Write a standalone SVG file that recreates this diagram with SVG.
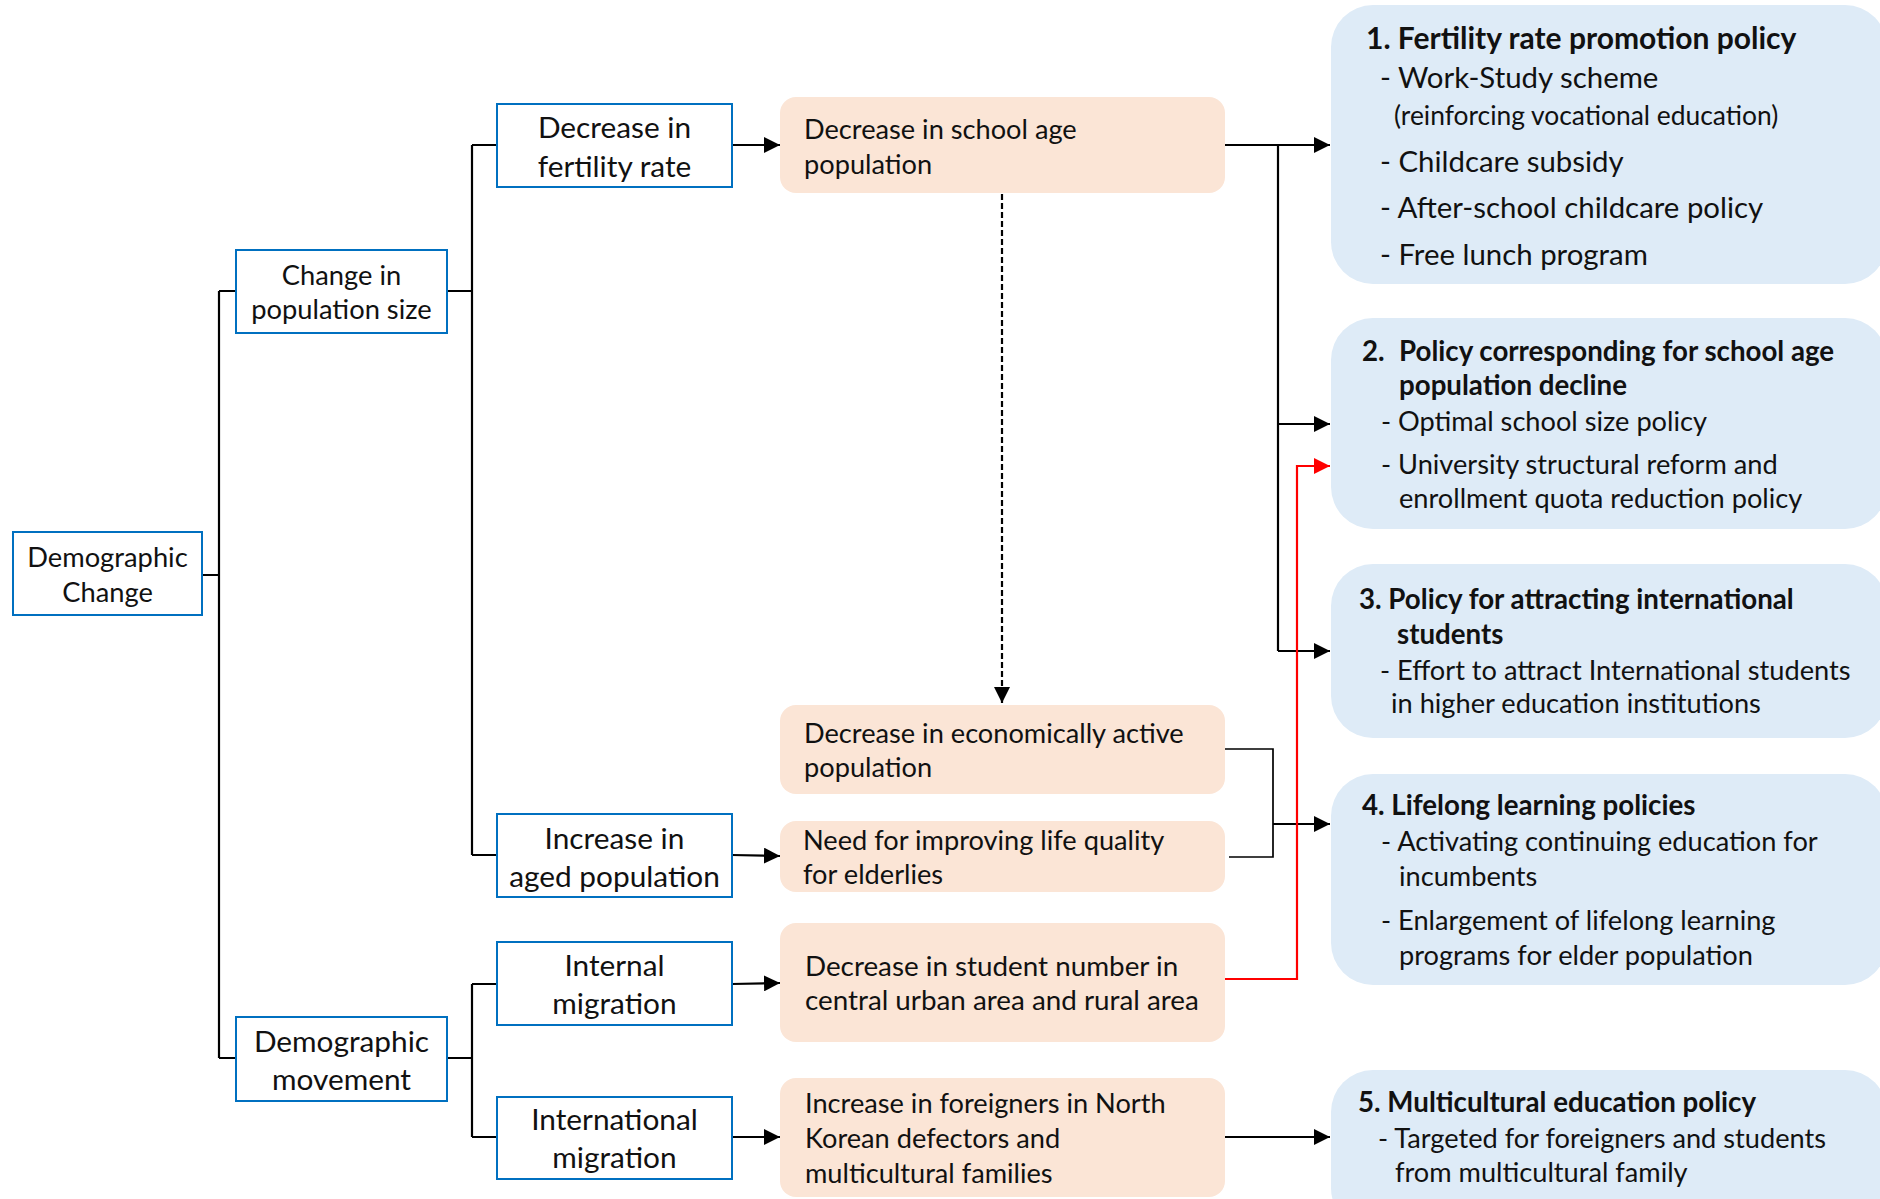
<svg xmlns="http://www.w3.org/2000/svg" width="1880" height="1199" viewBox="0 0 1880 1199">
<style>
text{font-family:Lato,"Liberation Sans",sans-serif;fill:#111}
.bx{fill:#fff;stroke:#0070C0;stroke-width:2}
.or{fill:#FBE5D6}
.pb{fill:#DEEBF7}
.c{text-anchor:middle}
.s1{font-size:27.3px}
.s2{font-size:29.8px}
.so{font-size:27.2px}
.so2{font-size:27.8px}
.p1{font-size:29.4px}
.p1t{font-size:30px;font-weight:bold}
.r{font-size:26.4px}
.pn{font-size:27.2px}
.pt{font-size:27.7px;font-weight:bold}
.ln{fill:none;stroke:#000;stroke-width:2.2}
.thin{fill:none;stroke:#000;stroke-width:1.7}
.red{fill:none;stroke:#FF0000;stroke-width:2.2}
.dash{fill:none;stroke:#000;stroke-width:2.2;stroke-dasharray:6 3}
</style>
<defs>
<marker id="ah" markerUnits="userSpaceOnUse" markerWidth="16" markerHeight="16" refX="16" refY="8" orient="auto"><path d="M0,0 L16,8 L0,16 Z" fill="#000"/></marker>
<marker id="ahr" markerUnits="userSpaceOnUse" markerWidth="16" markerHeight="16" refX="16" refY="8" orient="auto"><path d="M0,0 L16,8 L0,16 Z" fill="#FF0000"/></marker>
</defs>
<rect width="1880" height="1199" fill="#fff"/>

<g id="connectors">
<path class="ln" d="M202,575 H219 M219,291 V1058 M219,291 H236 M219,1058 H236"/>
<path class="ln" d="M447,291 H472 M472,145 V855 M472,145 H497 M472,855 H497"/>
<path class="ln" d="M447,1058 H472 M472,984 V1137 M472,984 H497 M472,1137 H497"/>
<path class="ln" d="M732,145 H780" marker-end="url(#ah)"/>
<path class="ln" d="M732,855 L780,856" marker-end="url(#ah)"/>
<path class="ln" d="M732,984 L780,983" marker-end="url(#ah)"/>
<path class="ln" d="M732,1137 H780" marker-end="url(#ah)"/>
<path class="ln" d="M1225,145 H1330" marker-end="url(#ah)"/>
<path class="ln" d="M1278,145 V651"/>
<path class="ln" d="M1278,424 H1330" marker-end="url(#ah)"/>
<path class="ln" d="M1278,651 H1330" marker-end="url(#ah)"/>
<path class="dash" d="M1002,194 V703" marker-end="url(#ah)"/>
<path class="thin" d="M1225,749 H1273 V857 H1229"/>
<path class="ln" d="M1273,824 H1330" marker-end="url(#ah)"/>
<path class="red" d="M1225,979 H1297 V466 H1330" marker-end="url(#ahr)"/>
<path class="ln" d="M1225,1137 H1330" marker-end="url(#ah)"/>
</g>

<g id="demographic-change">
<rect class="bx" x="13" y="532" width="189" height="83"/>
<text class="c s1" x="107.5" y="567">Demographic</text>
<text class="c s1" x="107.5" y="602">Change</text>
</g>
<g id="change-population-size">
<rect class="bx" x="236" y="250" width="211" height="83"/>
<text class="c s1" x="341.5" y="285">Change in</text>
<text class="c s1" x="341.5" y="319">population size</text>
</g>
<g id="demographic-movement">
<rect class="bx" x="236" y="1017" width="211" height="84"/>
<text class="c s2" x="341.5" y="1052">Demographic</text>
<text class="c s2" x="341.5" y="1090">movement</text>
</g>
<g id="decrease-fertility">
<rect class="bx" x="497" y="104" width="235" height="83"/>
<text class="c s2" x="614.5" y="138">Decrease in</text>
<text class="c s2" x="614.5" y="177">fertility rate</text>
</g>
<g id="increase-aged">
<rect class="bx" x="497" y="814" width="235" height="83"/>
<text class="c s2" x="614.5" y="849">Increase in</text>
<text class="c s2" x="614.5" y="887">aged population</text>
</g>
<g id="internal-migration">
<rect class="bx" x="497" y="942" width="235" height="83"/>
<text class="c s2" x="614.5" y="976">Internal</text>
<text class="c s2" x="614.5" y="1014">migration</text>
</g>
<g id="international-migration">
<rect class="bx" x="497" y="1097" width="235" height="82"/>
<text class="c s2" x="614.5" y="1130">International</text>
<text class="c s2" x="614.5" y="1168">migration</text>
</g>

<g id="school-age">
<rect class="or" x="780" y="97" width="445" height="96" rx="16"/>
<text class="so" x="804" y="139">Decrease in school age</text>
<text class="so" x="804" y="174">population</text>
</g>
<g id="econ-active">
<rect class="or" x="780" y="705" width="445" height="89" rx="16"/>
<text class="so" x="804" y="743">Decrease in economically active</text>
<text class="so" x="804" y="777">population</text>
</g>
<g id="life-quality">
<rect class="or" x="780" y="821" width="445" height="71" rx="16"/>
<text class="so" x="803" y="850">Need for improving life quality</text>
<text class="so" x="803" y="884">for elderlies</text>
</g>
<g id="student-number">
<rect class="or" x="780" y="923" width="445" height="119" rx="16"/>
<text class="so2" x="805" y="976">Decrease in student number in</text>
<text class="so2" x="805" y="1010">central urban area and rural area</text>
</g>
<g id="foreigners">
<rect class="or" x="780" y="1078" width="445" height="119" rx="16"/>
<text class="so" x="805" y="1113">Increase in foreigners in North</text>
<text class="so" x="805" y="1148">Korean defectors and</text>
<text class="so" x="805" y="1183">multicultural families</text>
</g>

<g id="policy-1">
<rect class="pb" x="1331" y="5" width="556" height="279" rx="42"/>
<text class="p1t" x="1366" y="49">1. Fertility rate promotion policy</text>
<text class="p1" x="1380" y="88">- Work-Study scheme</text>
<text class="r" x="1394" y="125">(reinforcing vocational education)</text>
<text class="p1" x="1380" y="172">- Childcare subsidy</text>
<text class="p1" x="1380" y="218">- After-school childcare policy</text>
<text class="p1" x="1380" y="265">- Free lunch program</text>
</g>
<g id="policy-2">
<rect class="pb" x="1331" y="318" width="556" height="211" rx="42"/>
<text class="pt" x="1362" y="361">2.</text>
<text class="pt" x="1399" y="361">Policy corresponding for school age</text>
<text class="pt" x="1399" y="395">population decline</text>
<text class="pn" x="1381" y="431">- Optimal school size policy</text>
<text class="pn" x="1381" y="474">- University structural reform and</text>
<text class="pn" x="1399" y="508">enrollment quota reduction policy</text>
</g>
<g id="policy-3">
<rect class="pb" x="1331" y="564" width="556" height="174" rx="42"/>
<text class="pt" x="1359" y="609">3. Policy for attracting international</text>
<text class="pt" x="1397" y="644">students</text>
<text class="pn" x="1380" y="680">- Effort to attract International students</text>
<text class="pn" x="1391" y="713">in higher education institutions</text>
</g>
<g id="policy-4">
<rect class="pb" x="1331" y="774" width="556" height="211" rx="42"/>
<text class="pt" x="1362" y="815">4. Lifelong learning policies</text>
<text class="pn" x="1381" y="851">- Activating continuing education for</text>
<text class="pn" x="1399" y="886">incumbents</text>
<text class="pn" x="1381" y="930">- Enlargement of lifelong learning</text>
<text class="pn" x="1399" y="965">programs for elder population</text>
</g>
<g id="policy-5">
<rect class="pb" x="1331" y="1070" width="556" height="160" rx="42"/>
<text class="pt" x="1358" y="1112">5. Multicultural education policy</text>
<text class="pn" x="1378" y="1148">- Targeted for foreigners and students</text>
<text class="pn" x="1395" y="1182">from multicultural family</text>
</g>
</svg>
